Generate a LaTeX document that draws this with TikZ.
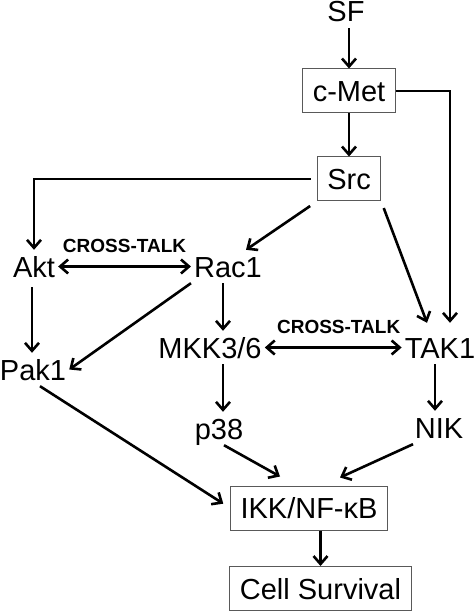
\documentclass[tikz,border=0pt]{standalone}
\usepackage{fontspec}
\setmainfont{Liberation Sans}
\usetikzlibrary{arrows.meta,positioning}

\tikzset{
  lbl/.style={font=\fontsize{29}{30}\selectfont, inner xsep=3pt, inner ysep=6pt,
              text height=21pt, text depth=0pt},
  boxed/.style={lbl, draw=black!65, line width=1pt, inner xsep=10pt, inner ysep=11.5pt},
  talk/.style={font=\fontsize{19}{20}\selectfont\bfseries, inner sep=3pt},
  sig/.style={line width=2.6pt, -{Straight Barb[length=8pt,width=14pt]}},
  both/.style={line width=2.6pt, {Straight Barb[length=8pt,width=14pt]}-{Straight Barb[length=8pt,width=14pt]}}
}

\begin{document}
\begin{tikzpicture}[x=1pt,y=-1pt]
  \useasboundingbox (0,0) rectangle (475,612);
  % receptor and upstream kinases
  \node[lbl]   (sf)   at (346,11.5) {SF};
  \node[boxed] (cmet) at (349,91)   {c-Met};
  \node[boxed] (src)  at (349,179)  {Src};
  % middle layer
  \foreach \nm/\x/\y/\txt in {
      akt/34/266.5/Akt,
      rac/228/266.5/Rac1,
      pak/33/369.5/Pak1,
      mkk/210/347.5/MKK3\slash 6,
      tak/440/347.5/TAK1,
      p38/219/428.5/p38,
      nik/439/427.5/NIK
    } {
      \node[lbl] (\nm) at (\x,\y) {\txt};
    };
  % output
  \node[boxed] (ikk)  at (309,508)   {IKK/NF-κB};
  \node[boxed] (cell) at (320.5,588.5) {Cell Survival};

  % arrows
  \draw[sig] (sf.south -| cmet) -- (cmet.north);
  \draw[sig] (cmet) -- (src);
  \draw[sig] (cmet.east) -| ([xshift=10pt,yshift=8pt]tak.north);
  \draw[sig, shorten <=6pt] (src.west) -| (akt.north);
  \draw[sig, shorten <=8pt] (src.south west) -- ([xshift=18pt]rac.north);
  \draw[sig, shorten <=7pt] (src.south east) -- ([xshift=-13pt,yshift=8pt]tak.north);
  \draw[both] (akt) -- node[talk, above=10pt] {CROSS-TALK} (rac);
  \draw[sig, shorten <=4pt] ([xshift=-2pt]akt.south) -- ([xshift=-2pt]akt.south |- pak.north);
  \draw[sig] (rac.south west) -- (pak.east);
  \draw[sig] ([xshift=-5pt]rac.south) -- ([xshift=-5pt]rac.south |- mkk.north);
  \draw[both] (mkk) -- node[talk, above=10pt, pos=0.54] {CROSS-TALK} (tak);
  \draw[sig] ([xshift=4pt]p38.north |- mkk.south) -- ([xshift=4pt]p38.north);
  \draw[sig] ([xshift=-4pt]nik.north |- tak.south) -- ([xshift=-4pt]nik.north);
  \draw[sig, shorten >=8pt] ([xshift=7pt]pak.south) -- (ikk.west);
  \draw[sig] ([xshift=5pt]p38.south) -- ([xshift=-29pt,yshift=9pt]ikk.north);
  \draw[sig] ([xshift=-26pt]nik.south) -- ([xshift=31pt,yshift=8pt]ikk.north);
  \draw[sig] (cell.north |- ikk.south) -- (cell.north);
\end{tikzpicture}
\end{document}
